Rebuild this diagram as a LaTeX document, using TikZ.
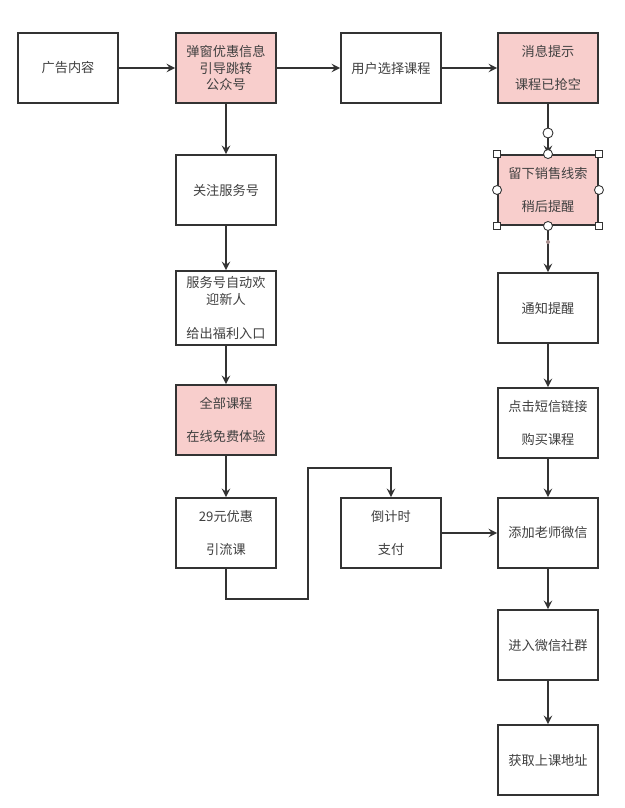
\documentclass[tikz,border=0pt]{standalone}
\usepackage{fontspec}
\setmainfont{Noto Sans CJK SC}
\usetikzlibrary{arrows}
\definecolor{pinkfill}{HTML}{F8CECC}
\definecolor{linegray}{HTML}{333333}

\begin{document}
\begin{tikzpicture}[x=0.02cm,y=-0.02cm]
\tikzstyle{block} = [rectangle, draw=linegray, line width=1.1pt, fill=white,
minimum width=2cm, minimum height=1.4cm, align=center,
font=\fontsize{7.5}{9.5}\selectfont, text=black!75]
\tikzstyle{block_hl} = [block, fill=pinkfill]
\tikzstyle{line} = [draw=linegray, line width=1.1pt, -stealth];
\tikzstyle{handle} = [draw=linegray, fill=white, line width=0.5pt];

\useasboundingbox (0,0) rectangle (625,808);

% top row
\node [block] (ad) at (68,68) {广告内容};
\node [block_hl] (popup) at (226,68) {弹窗优惠信息\\引导跳转\\公众号};
\node [block] (choose) at (391,68) {用户选择课程};
\node [block_hl] (msg) at (548,68) {消息提示\\[9.5pt]课程已抢空};

% left column
\node [block] (follow) at (226,190) {关注服务号};
\node [block] (welcome) at (226,308) {服务号自动欢\\迎新人\\[9.5pt]给出福利入口};
\node [block_hl] (allcourse) at (226,420) {全部课程\\[9.5pt]在线免费体验};
\node [block] (promo) at (226,533) {29元优惠\\[9.5pt]引流课};
\node [block] (countdown) at (391,533) {倒计时\\[9.5pt]支付};
\coordinate (jog) at (308,468);

% right column
\node [block_hl] (lead) at (548,190) {留下销售线索\\[9.5pt]稍后提醒};
\node [block] (notify) at (548,308) {通知提醒};
\node [block] (sms) at (548,423) {点击短信链接\\[9.5pt]购买课程};
\node [block] (wechat) at (548,533) {添加老师微信};
\node [block] (group) at (548,645) {进入微信社群};
\node [block] (addr) at (548,760) {获取上课地址};

\path[line] (ad) -- (popup);
\path[line] (popup) -- (choose);
\path[line] (choose) -- (msg);
\path[line] (msg) -- (lead);
\path[line] (lead) -- (notify);
\path[line] (notify) -- (sms);
\path[line] (sms) -- (wechat);
\path[line] (wechat) -- (group);
\path[line] (group) -- (addr);
\path[line] (popup) -- (follow);
\path[line] (follow) -- (welcome);
\path[line] (welcome) -- (allcourse);
\path[line] (allcourse) -- (promo);
\path[line] (promo.south) -- ++(0,30) -| (jog) -| (countdown.north);
\path[line] (countdown) -- (wechat);

% selection handles
\draw [handle] (548,133) circle (5);
\foreach \a in {north west,north east,south west,south east}
  \draw [handle] ([shift={(-3.5,-3.5)}]lead.\a) rectangle ++(7,7);
\foreach \a in {north,south,east,west}
  \draw [handle] (lead.\a) circle (4.5);
\fill [pinkfill!60!linegray] (548,242) circle (2);
\end{tikzpicture}
\end{document}
